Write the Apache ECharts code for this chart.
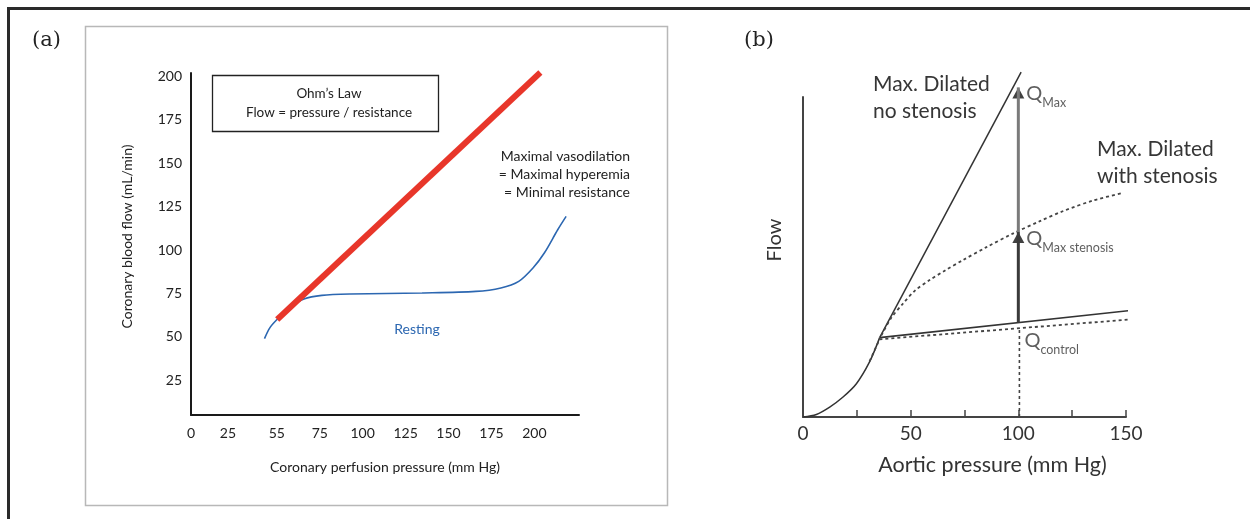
<!DOCTYPE html>
<html>
<head>
<meta charset="utf-8">
<script src="https://cdn.jsdelivr.net/npm/echarts@6/dist/echarts.min.js"></script>
<style>
  html, body { margin: 0; padding: 0; background: #fff; }
  #chart { width: 1250px; height: 519px; }
</style>
</head>
<body>
<div id="chart"></div>
<script>
// ---- panel (a): coronary autoregulation ----
const ohmLine = [[50.2, 60.0], [203.5, 202.3]];
const restingFlow = [
  [42.8, 49.0], [45.9, 55.2], [50.1, 60.0], [57.4, 66.7], [65.8, 71.8], [76.2, 73.9],
  [92.9, 74.7], [134.6, 75.3], [165.9, 76.2], [180.5, 78.2], [190.9, 82.0],
  [199.2, 89.7], [205.8, 98.3], [213.6, 111.7], [218.5, 119.4]
];
const pressureTickPos = [0, 21.5, 50, 75, 100, 125, 150, 175, 200];
const pressureTickText = ['0', '25', '55', '75', '100', '125', '150', '175', '200'];
const flowTicks = [25, 50, 75, 100, 125, 150, 175, 200];

// ---- panel (b): pressure-flow with stenosis ----
const foot = [
  [0, 0], [6.2, 0.8], [12.4, 3.1], [18.6, 6.25], [24.8, 10.4], [30.9, 17.2], [35.6, 24.8]
];
const noStenosis = [[35.6, 24.8], [101.3, 107.8]];
const controlSolid = [[35.6, 24.8], [152.3, 33.3]];
const controlDotted = [[30.9, 17.4], [35.6, 24.3], [152.3, 30.5]];
const withStenosis = [
  [36.4, 25.5], [41, 31], [46.4, 35.4], [52, 39.5], [58.8, 42.8], [66, 45.8],
  [74.2, 49], [85, 53], [97.4, 57.3], [110, 61.2], [120.6, 64.3], [135, 67.7], [148.4, 70]
];
const arrowX = 100;
const qControl = 29.5;
const qMaxStenosis = 57.8;
const qMax = 103;
const dropX = 100.5;
const dropTop = 28.0;
const aorticTicks = [0, 50, 100, 150];

const font = 'Lato, "Open Sans", sans-serif';
const dark = '#363636';

let chartDom = document.getElementById('chart');
let myChart = echarts.init(chartDom);

const qRich = {
  q: { fontSize: 20, color: dark, fontFamily: font, lineHeight: 26, verticalAlign: 'top' },
  s: { fontSize: 12.5, color: dark, fontFamily: font, lineHeight: 14, verticalAlign: 'bottom' }
};

const option = {
  animation: false,
  backgroundColor: '#fff',
  grid: [
    { left: 191, top: 73, width: 388, height: 342 },
    { left: 803, top: 97, width: 323, height: 320 }
  ],
  xAxis: [
    {
      gridIndex: 0, type: 'value', min: 0, max: 226,
      splitLine: { show: false },
      axisLine: { lineStyle: { color: '#1a1a1a', width: 2 } },
      axisTick: { show: false },
      axisLabel: {
        customValues: pressureTickPos,
        formatter: v => pressureTickText[pressureTickPos.indexOf(v)],
        color: '#222', fontSize: 14, fontFamily: font, margin: 11
      },
      name: 'Coronary perfusion pressure (mm Hg)',
      nameLocation: 'middle', nameGap: 45,
      nameTextStyle: { color: '#222', fontSize: 14, fontFamily: font }
    },
    {
      gridIndex: 1, type: 'value', min: 0, max: 150, interval: 25,
      splitLine: { show: false },
      axisLine: { lineStyle: { color: '#444', width: 2 } },
      axisTick: { inside: true, length: 7, lineStyle: { color: '#444', width: 1.5 } },
      axisLabel: {
        customValues: aorticTicks,
        color: '#333', fontSize: 19, fontFamily: font, margin: 7
      },
      name: 'Aortic pressure (mm Hg)',
      nameLocation: 'middle', nameGap: 37,
      nameTextStyle: { color: '#333', fontSize: 21.5, fontFamily: font, padding: [0, 0, 0, 56] }
    }
  ],
  yAxis: [
    {
      gridIndex: 0, type: 'value', min: 5, max: 202,
      splitLine: { show: false },
      axisLine: { show: true, lineStyle: { color: '#1a1a1a', width: 2 } },
      axisTick: { show: false },
      axisLabel: {
        customValues: flowTicks,
        color: '#222', fontSize: 14, fontFamily: font, margin: 9
      },
      name: 'Coronary blood flow (mL/min)',
      nameLocation: 'middle', nameGap: 57,
      nameTextStyle: { color: '#222', fontSize: 14, fontFamily: font, padding: [0, 0, 0, 15] }
    },
    {
      gridIndex: 1, type: 'value', min: 0, max: 100,
      splitLine: { show: false },
      axisLine: { show: true, lineStyle: { color: '#444', width: 2 } },
      axisTick: { show: false },
      axisLabel: { show: false },
      name: 'Flow',
      nameLocation: 'middle', nameGap: 18,
      nameTextStyle: { color: '#333', fontSize: 20, fontFamily: font, padding: [0, 0, 0, 34] }
    }
  ],
  series: [
    {
      name: 'Resting', type: 'line', xAxisIndex: 0, yAxisIndex: 0,
      data: restingFlow, smooth: 0.3, showSymbol: false,
      lineStyle: { color: '#2c67b1', width: 1.6 }
    },
    {
      name: "Ohm's Law", type: 'line', xAxisIndex: 0, yAxisIndex: 0,
      data: ohmLine, showSymbol: false, clip: false,
      lineStyle: { color: '#e8362a', width: 6, cap: 'butt' }
    },
    {
      name: 'Foot', type: 'line', xAxisIndex: 1, yAxisIndex: 1,
      data: foot, smooth: 0.3, showSymbol: false,
      lineStyle: { color: '#333', width: 1.5 }
    },
    {
      name: 'No stenosis', type: 'line', xAxisIndex: 1, yAxisIndex: 1,
      data: noStenosis, showSymbol: false, clip: false,
      lineStyle: { color: '#333', width: 1.5 }
    },
    {
      name: 'Control', type: 'line', xAxisIndex: 1, yAxisIndex: 1,
      data: controlSolid, showSymbol: false, clip: false,
      lineStyle: { color: '#333', width: 1.6 }
    },
    {
      name: 'Control dotted', type: 'line', xAxisIndex: 1, yAxisIndex: 1,
      data: controlDotted, showSymbol: false, clip: false,
      lineStyle: { color: '#444', width: 1.8, type: [3, 3] }
    },
    {
      name: 'With stenosis', type: 'line', xAxisIndex: 1, yAxisIndex: 1,
      data: withStenosis, smooth: 0.3, showSymbol: false, clip: false,
      lineStyle: { color: '#444', width: 1.8, type: [3, 3] }
    },
    {
      name: 'Drop', type: 'line', xAxisIndex: 1, yAxisIndex: 1,
      data: [[dropX, 0], [dropX, dropTop]], showSymbol: false,
      lineStyle: { color: '#444', width: 1.6, type: [3, 3] }
    },
    {
      name: 'Arrow low', type: 'line', xAxisIndex: 1, yAxisIndex: 1,
      data: [[arrowX, qControl], [arrowX, qMaxStenosis]], showSymbol: false,
      lineStyle: { color: '#3a3a3a', width: 3 }
    },
    {
      name: 'Arrow high', type: 'line', xAxisIndex: 1, yAxisIndex: 1,
      data: [[arrowX, qMaxStenosis], [arrowX, qMax]], showSymbol: false, clip: false,
      lineStyle: { color: '#7a7a7a', width: 3 }
    },
    {
      name: 'Heads', type: 'scatter', xAxisIndex: 1, yAxisIndex: 1, clip: false,
      symbol: 'triangle', symbolSize: [12, 11], symbolOffset: [0, '50%'],
      itemStyle: { color: '#111' },
      data: [
        { value: [arrowX, qMax], label: { formatter: '{q|Q}{s|Max}' } },
        { value: [arrowX, qMaxStenosis], label: { formatter: '{q|Q}{s|Max stenosis}' } }
      ],
      label: { show: true, position: 'right', distance: 2, offset: [0, 4], rich: qRich }
    },
    {
      name: 'Q control', type: 'scatter', xAxisIndex: 1, yAxisIndex: 1,
      symbolSize: 0,
      data: [{ value: [dropX, dropTop], label: { formatter: '{q|Q}{s|control}' } }],
      label: { show: true, position: 'right', distance: 5, offset: [0, 16], rich: qRich }
    }
  ],
  graphic: [
    { type: 'rect', shape: { x: 8.5, y: 8.5, width: 1400, height: 700 },
      style: { fill: 'none', stroke: '#2a2a2a', lineWidth: 3 }, silent: true },
    { type: 'rect', shape: { x: 85.5, y: 26.5, width: 582, height: 479 },
      style: { fill: 'none', stroke: '#b8b8b8', lineWidth: 1.5 }, silent: true },
    { type: 'text', left: 32, top: 30,
      style: { text: '(a)', font: '21px "DejaVu Serif", serif', fill: '#222' } },
    { type: 'text', left: 744, top: 30,
      style: { text: '(b)', font: '21px "DejaVu Serif", serif', fill: '#222' } },
    { type: 'rect', shape: { x: 212.5, y: 75.5, width: 226, height: 56 },
      style: { fill: '#fff', stroke: '#222', lineWidth: 1.3 }, silent: true },
    { type: 'text', x: 329, y: 94,
      style: { text: 'Ohm\u2019s Law', font: '13.5px ' + font, fill: '#222', align: 'center', verticalAlign: 'middle' } },
    { type: 'text', x: 329, y: 113,
      style: { text: 'Flow = pressure / resistance', font: '13.5px ' + font, fill: '#222', align: 'center', verticalAlign: 'middle' } },
    { type: 'text', x: 630, y: 147,
      style: { text: 'Maximal vasodilation\n= Maximal hyperemia\n= Minimal resistance', font: '14px ' + font,
        fill: '#222', align: 'right', verticalAlign: 'top', lineHeight: 18.3 } },
    { type: 'text', x: 417, y: 329,
      style: { text: 'Resting', font: '14px ' + font, fill: '#2c67b1', align: 'center', verticalAlign: 'middle' } },
    { type: 'text', x: 873, y: 71,
      style: { text: 'Max. Dilated\nno stenosis', font: '21px ' + font, fill: dark, align: 'left', verticalAlign: 'top', lineHeight: 27 } },
    { type: 'text', x: 1097, y: 136,
      style: { text: 'Max. Dilated\nwith stenosis', font: '21px ' + font, fill: dark, align: 'left', verticalAlign: 'top', lineHeight: 26.5 } }
  ]
};

myChart.setOption(option);
</script>
</body>
</html>
